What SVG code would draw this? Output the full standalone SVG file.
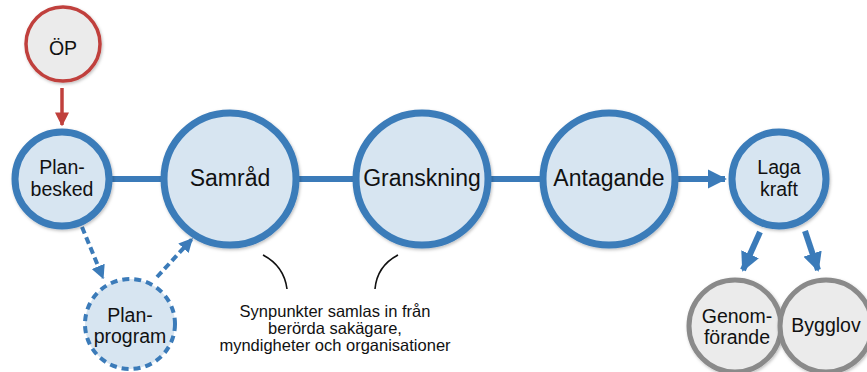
<svg xmlns="http://www.w3.org/2000/svg" width="867" height="372" viewBox="0 0 867 372">
<defs>
<filter id="sh" x="-20%" y="-20%" width="140%" height="140%">
<feDropShadow dx="1" dy="1.5" stdDeviation="1.5" flood-color="#000" flood-opacity="0.25"/>
</filter>
<marker id="ab" viewBox="0 0 10 10" refX="9" refY="5" markerWidth="3.2" markerHeight="3.2" orient="auto" markerUnits="strokeWidth"><path d="M0,0 L10,5 L0,10 z" fill="#3b7bb9"/></marker>
<marker id="ar" viewBox="0 0 10 10" refX="9" refY="5" markerWidth="4" markerHeight="4" orient="auto" markerUnits="strokeWidth"><path d="M0,0 L10,5 L0,10 z" fill="#c0403c"/></marker>
<marker id="ad" viewBox="0 0 10 10" refX="9" refY="5" markerWidth="3.5" markerHeight="3.5" orient="auto" markerUnits="strokeWidth"><path d="M0,0 L10,5 L0,10 z" fill="#3b7bb9"/></marker>
</defs>
<style>
.n{fill:#d7e5f1;stroke:#3b7bb9;stroke-width:7;filter:url(#sh)}
.g{fill:#ebebeb;stroke:#8a8a8a;stroke-width:5;filter:url(#sh)}
.r{fill:#ebebeb;stroke:#c0403c;stroke-width:3.5;filter:url(#sh)}
.d{fill:#d7e5f1;stroke:#3b7bb9;stroke-width:4;stroke-dasharray:7 5}
text{font-family:"Liberation Sans",Arial,sans-serif;fill:#111;text-anchor:middle}
.b{font-size:23px}
.m{font-size:19.5px}
.s{font-size:16.5px}
.c{fill:none;stroke:#111;stroke-width:1.6}
</style>
<g id="connectors">
<line x1="100" y1="179" x2="680" y2="179" stroke="#3b7bb9" stroke-width="6"/>
<line x1="675" y1="179" x2="725" y2="179" stroke="#3b7bb9" stroke-width="6" marker-end="url(#ab)"/>
<line x1="62" y1="88" x2="62" y2="125" stroke="#c0403c" stroke-width="3.5" marker-end="url(#ar)"/>
<line x1="82" y1="227" x2="103" y2="278" stroke="#3b7bb9" stroke-width="4" stroke-dasharray="7 4" marker-end="url(#ad)"/>
<line x1="157" y1="277" x2="192" y2="239" stroke="#3b7bb9" stroke-width="4" stroke-dasharray="7 4" marker-end="url(#ad)"/>
<line x1="760" y1="232" x2="743" y2="270" stroke="#3b7bb9" stroke-width="6" marker-end="url(#ab)"/>
<line x1="805" y1="231" x2="818" y2="270" stroke="#3b7bb9" stroke-width="6" marker-end="url(#ab)"/>
<path class="c" d="M263,255 Q284,266 287,289"/>
<path class="c" d="M398,255 Q377,266 375,289"/>
</g>
<g id="op"><circle class="r" cx="63" cy="44" r="37"/><text class="m" x="63" y="55">ÖP</text></g>
<g id="planbesked"><circle class="n" cx="62" cy="179" r="47"/><text class="m" x="62" y="174">Plan-</text><text class="m" x="62" y="196">besked</text></g>
<g id="planprogram"><circle class="d" cx="130" cy="324" r="45"/><text class="m" x="130" y="322">Plan-</text><text class="m" x="130" y="343">program</text></g>
<g id="samrad"><circle class="n" cx="230" cy="179" r="66"/><text class="b" x="230" y="186">Samråd</text></g>
<g id="granskning"><circle class="n" cx="422" cy="179" r="66"/><text class="b" x="422" y="186">Granskning</text></g>
<g id="antagande"><circle class="n" cx="609" cy="179" r="66"/><text class="b" x="609" y="186">Antagande</text></g>
<g id="lagakraft"><circle class="n" cx="779" cy="179" r="47"/><text class="m" x="779" y="174">Laga</text><text class="m" x="779" y="196">kraft</text></g>
<g id="genomforande"><circle class="g" cx="735" cy="326" r="46"/><text class="m" x="737" y="323">Genom-</text><text class="m" x="737" y="344">förande</text></g>
<g id="bygglov"><circle class="g" cx="826" cy="326" r="46"/><text class="m" x="826" y="332">Bygglov</text></g>
<g id="note"><text class="s" x="335" y="317">Synpunkter samlas in från</text><text class="s" x="335" y="334">berörda sakägare,</text><text class="s" x="335" y="351">myndigheter och organisationer</text></g>
</svg>
